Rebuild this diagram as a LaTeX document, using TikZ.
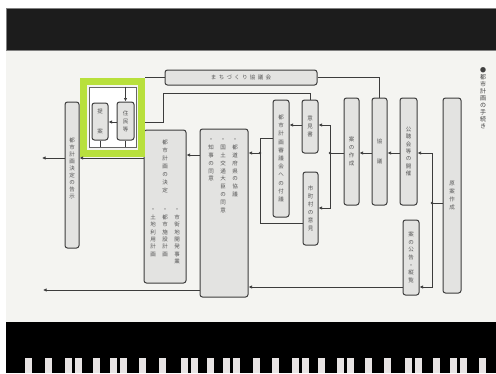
\documentclass[tikz,border=0pt]{standalone}
\usepackage{fontspec}
\newfontfamily\cjk{Noto Sans CJK JP}
\usetikzlibrary{arrows.meta}
\makeatletter
\newcommand\vtext[2][7.6pt]{\vbox{\baselineskip=#1\relax\lineskiplimit=-20pt\lineskip=0pt\@tfor\vt@c:=#2\do{\hbox to 7pt{\hss\vt@c\hss}}}}
\newcommand\htext[2][7.8pt]{\hbox{\@tfor\vt@c:=#2\do{\hbox to #1{\hss\vt@c\hss}}}}
\makeatother
\definecolor{lc}{HTML}{3C3C3C}
\definecolor{bf}{HTML}{E3E3E1}
\definecolor{tc}{HTML}{555555}
\definecolor{pg}{HTML}{F4F4F1}
\definecolor{bandA}{HTML}{1C1C1C}
\definecolor{keyc}{HTML}{E8E4E4}
\definecolor{grn}{HTML}{B8E03C}
\tikzset{
  bx/.style={draw=lc, fill=bf, line width=1pt, rounded corners=2.5pt, inner sep=0pt, font=\cjk\fontsize{5.5}{6}\selectfont, text=tc},
  txt/.style={inner sep=0pt, font=\cjk\fontsize{5.5}{6}\selectfont, text=tc},
  ln/.style={draw=lc, line width=0.9pt},
  ar/.style={ln, -{Latex[length=3.5pt,width=3.5pt]}},
  dotj/.style={fill=lc}
}
\begin{document}
\begin{tikzpicture}[x=1pt,y=-1pt]
\useasboundingbox (0,0) rectangle (496,373);
\fill[white] (0,0) rectangle (496,373);
\fill[pg] (6,50) rectangle (496,322);
% top band
\fill[bandA] (6,8) rectangle (496,50);
\draw[gray,line width=0.6pt] (6,8) rectangle (497,50);
% bottom band with keys
\fill[black] (6,322) rectangle (496,373);
\foreach \k in {25,45,65,75,93,110,120,139,159,181,191,207,223,233,253,272,292,302,318,337,347,365,384,405,415,433,450,460,479}
  \fill[keyc] (\k,358) rectangle ++(7,15);

% boxes
\node[bx, minimum width=152pt, minimum height=15pt] (T) at (241,77.5) {\htext{まちづくり協議会}};
\node[bx, minimum width=14pt, minimum height=146pt] (B0) at (72,175) {};
\node[txt] (B0t) at (72,168) {\vtext[7pt]{都市計画決定の告示}};
\node[bx, minimum width=42pt, minimum height=153pt] (B1) at (165,206.5) {};
\node[txt, anchor=north] (B1t) at (165,140) {\vtext[8pt]{都市計画の決定}};
\node[txt, anchor=north] (B1a) at (153,209) {\vtext[7.4pt]{・土地利用計画}};
\node[txt, anchor=north] (B1b) at (165,209) {\vtext[7.4pt]{・都市施設計画}};
\node[txt, anchor=north] (B1c) at (177,209) {\vtext[7.4pt]{・市街地開発事業}};
\node[bx, minimum width=48pt, minimum height=168pt] (B2) at (224,213) {};
\node[txt, anchor=north] (B2a) at (211,139) {\vtext[7.8pt]{・知事の同意}};
\node[txt, anchor=north] (B2b) at (223,139) {\vtext[7.8pt]{・国土交通大臣の同意}};
\node[txt, anchor=north] (B2c) at (235,139) {\vtext[7.8pt]{・都道府県の協議}};
\node[bx, minimum width=16pt, minimum height=117pt] (R7) at (281,158.5) {\vtext[8.2pt]{都市計画審議会への付議}};
\node[bx, minimum width=16pt, minimum height=53pt] (R5) at (310,126.5) {\vtext[8pt]{意見書}};
\node[bx, minimum width=15pt, minimum height=73pt] (R6) at (310.5,208.5) {\vtext[8pt]{市町村の意見}};
\node[bx, minimum width=15pt, minimum height=107pt] (R4) at (351.5,151.5) {\vtext[8pt]{案の作成}};
\node[bx, minimum width=15pt, minimum height=107pt] (R3) at (379.5,151.5) {\vtext[10pt]{協　議}};
\node[bx, minimum width=17pt, minimum height=107pt] (R2) at (408.5,151.5) {\vtext[7.4pt]{公聴会等の開催}};
\node[bx, minimum width=18pt, minimum height=195pt] (R1) at (452,195.5) {\vtext[8pt]{原案作成}};
\node[bx, minimum width=16pt, minimum height=75pt] (R8) at (411,257.5) {\vtext[7.6pt]{案の公告・縦覧}};

% side label
\node[txt, anchor=north, font=\cjk\fontsize{6}{6}\selectfont, text=black!75] (side) at (483,67) {\vtext[7pt]{●都市計画の手続き}};

% helper coordinates
\coordinate (J1) at (432,203);
\coordinate (J2) at (330,153);
\coordinate (J3) at (260,153);
\coordinate (Kc) at (163,93);
\coordinate (Ya) at (0,153);
\coordinate (Yb) at (0,125);
\coordinate (Yc) at (0,208);
\coordinate (Yd) at (0,138);
\coordinate (Ye) at (0,223);
\coordinate (Yf) at (0,155);
\coordinate (Yg) at (0,158);
\coordinate (Yh) at (0,287);
\coordinate (Yi) at (0,290);
\coordinate (Yj) at (0,122);
\coordinate (L1) at (42,158);
\coordinate (L2) at (43,290);

% connectors
\draw[ln] (R1.west|-J1) -- (J1);
\draw[ar] (J1) |- (R2.east|-Ya);
\draw[ar] (J1) |- (R8.east|-Yh);
\draw[ar] (R2.west|-Ya) -- (R3.east|-Ya);
\draw[ar] (R3.west|-Ya) -- (R4.east|-Ya);
\draw[ln] (R4.west|-Ya) -- (J2);
\draw[ar] (J2) |- (R5.east|-Yb);
\draw[ar] (J2) |- (R6.east|-Yc);
\draw[ar] (R5.west|-Yb) -- (R7.east|-Yb);
\draw[ln] (R7.west|-Yd) -| (J3);
\draw[ln] (R6.west|-Ye) -| (J3);
\draw[ar] (J3) -- (B2.east|-Ya);
\draw[ar] (B2.west|-Yf) -- (B1.east|-Yf);
\draw[ar] (R8.west|-Yh) -- (B2.east|-Yh);
\draw[ar] (B2.west|-Yi) -- (L2);
\draw[ln] (T.east) -| (R3.north);
\fill[dotj] (J1) circle (1.4);
\fill[dotj] (J2) circle (1.4);
\fill[dotj] (J3) circle (1.4);

% green highlighted group
\node[draw=gray!80!black, fill=white, line width=0.8pt, minimum width=47pt, minimum height=60pt, inner sep=0pt] (Gin) at (112.5,117) {};
\node[draw=grn, line width=7pt, minimum width=58pt, minimum height=72pt, inner sep=0pt] (G) at (112.5,117.5) {};
\node[bx, minimum width=16pt, minimum height=37pt] (GL) at (100,121.5) {\vtext[10pt]{提　案}};
\node[bx, minimum width=17pt, minimum height=38pt] (GR) at (125.5,121) {\vtext[8pt]{住民等}};
\draw[ar] (GR.north|-Gin.north) -- (GR.north);
\draw[ar] (GR.west|-Yj) -- (GL.east|-Yj);
\draw[ln] (GL.south) -- (GL.south|-Gin.south);
\draw[ln] (GR.south) -- (GR.south|-Gin.south);
\draw[ln] (R5.north) |- (Kc) |- (G.east|-Yj);
\draw[ln] (T.west) -- (G.east|-T.west);
\draw[ar] (B1.west|-Yg) -- (B0.east|-Yg);
\draw[ar] (B0.west|-Yg) -- (L1);
\end{tikzpicture}
\end{document}
